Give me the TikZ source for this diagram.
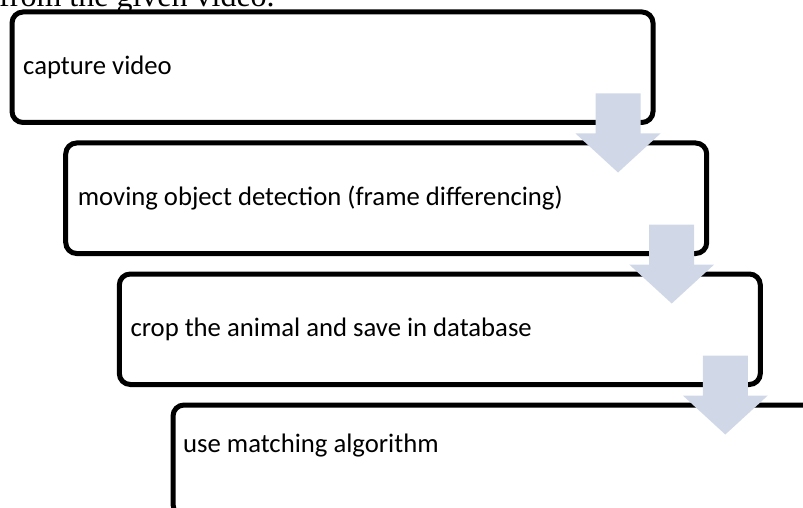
\documentclass[tikz,border=0pt]{standalone}
\usepackage{fontspec}
\setmainfont{Carlito}
\newfontfamily\headfont{Liberation Serif}
\usetikzlibrary{calc}
\definecolor{arrowblue}{RGB}{208,216,232}
\tikzset{
	stepbox/.style={draw=black, line width=5pt, rounded corners=11pt, fill=white,
		minimum width=641pt, minimum height=110.5pt, anchor=north west,
		inner sep=0pt, outer sep=0pt},
	steptext/.style={anchor=base west, inner sep=0pt, font=\fontsize{26.7}{30}\selectfont},
}

\begin{document}
\begin{tikzpicture}[x=1pt, y=-1pt]
			\useasboundingbox (0, 0) rectangle (803, 508);
			\clip (0, 0) rectangle (803, 508);
			% line of the page above the chart, cut off
			\node[anchor=base west, inner sep=0pt, font=\headfont\fontsize{32}{36}\selectfont] (head) at (-1, 6.5) {from the given video.};
			\node[stepbox] (box1) at (12, 12) {};
			\node[stepbox] (box2) at (65.7, 143) {};
			\node[stepbox] (box3) at (119.3, 274) {};
			\node[stepbox] (box4) at (173, 405) {};
			\node[steptext] (text1) at ($(box1.west) + (11, 7)$) {capture video};
			\node[steptext] (text2) at ($(box2.west) + (12, 7)$) {moving object detection (frame differencing)};
			\node[steptext] (text3) at ($(box3.west) + (11, 7)$) {crop the animal and save in database};
			\node[steptext] (text4) at ($(box4.west) + (10, -8)$) {use matching algorithm};
			% block arrows, on top of the borders
			\foreach \a/\b in {box1/box2, box2/box3, box3/box4}
			\fill[arrowblue] ($(\a.south east) + (-57.5, -29)$) -- ++(45, 0) -- ++(0, 40) -- ++(20, 0)
				-- ++(-42.5, 39) -- ++(-42.5, -39) -- ++(20, 0) -- cycle;
		\end{tikzpicture}
\end{document}
